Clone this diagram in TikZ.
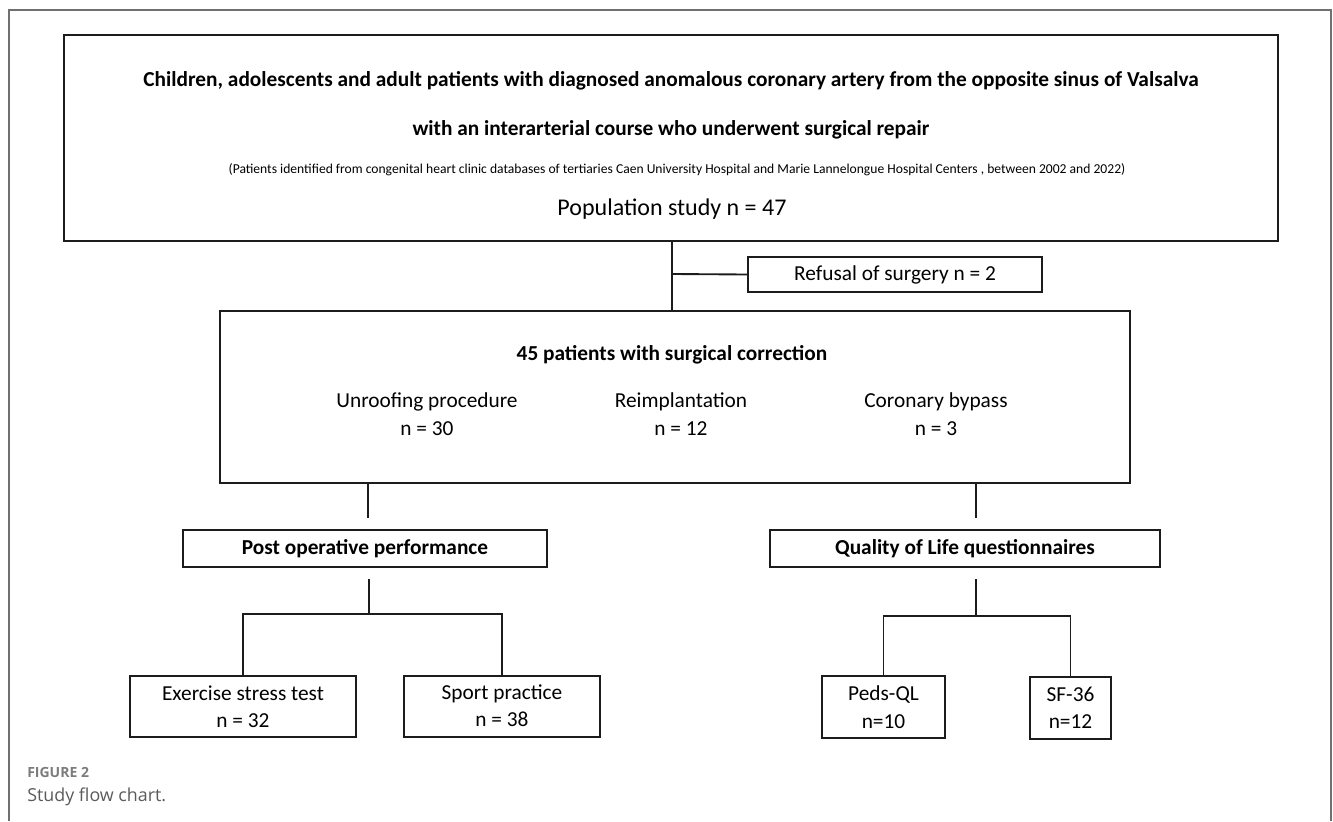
\documentclass[tikz,border=0pt]{standalone}
\usepackage{fontspec}
\setmainfont{Carlito}
\newfontfamily\capfont{Open Sans}
\usetikzlibrary{positioning,calc}
\definecolor{inkblack}{HTML}{1C1C1C}
\definecolor{framegray}{HTML}{707070}
\definecolor{capgray}{HTML}{7C7C7C}
\definecolor{captext}{HTML}{5A5A5A}
\newcommand{\boxfont}{\fontsize{16pt}{20.5pt}\selectfont}
\newcommand{\headfont}{\fontsize{16pt}{18pt}\selectfont\bfseries}
\newcommand{\notefont}{\fontsize{10.2pt}{12pt}\selectfont}

\begin{document}
\begin{tikzpicture}[x=0.75pt,y=-0.75pt,
 box/.style 2 args={draw=inkblack,line width=1.5pt,minimum width=#1*0.75pt,minimum height=#2*0.75pt,inner sep=0pt},
 bigbox/.style 2 args={box={#1}{#2},line width=1.8pt},
 txt/.style={font=\boxfont,align=center,inner sep=0pt},
 head/.style={font=\headfont,align=center,inner sep=0pt},
 link/.style={draw=inkblack,line width=1.4pt}]
\useasboundingbox (0,0) rectangle (1333,821);
\draw[framegray,line width=0.8pt] (9,821) -- (9,10) -- (1331,10) -- (1331,821);
% population
\node[bigbox={1214}{206}] (pop) at (671,138) {};
\node[head] (poptitlea) at (671,81) {Children, adolescents and adult patients with diagnosed anomalous coronary artery from the opposite sinus of Valsalva};
\node[head] (poptitleb) at (671,130) {with an interarterial course who underwent surgical repair};
\node[txt,font=\notefont] (popsource) at (677,170) {(Patients identified from congenital heart clinic databases of tertiaries Caen University Hospital and Marie Lannelongue Hospital Centers , between 2002 and 2022)};
\node[txt,font=\fontsize{18pt}{20pt}\selectfont] (popcount) at (672,209) {Population study n = 47};
% surgery
\node[box={294}{35}] (refusal) at (895,274.5) {};
\node[txt] at (refusal) {Refusal of surgery n = 2};
\node[box={910}{172}] (surg) at (675,397) {};
\node[head] (surgtitle) at (672,355) {45 patients with surgical correction};
\node[txt] (unroof) at (427,414) {Unroofing procedure\\n = 30};
\node[txt] (reimpl) at (681,414) {Reimplantation\\n = 12};
\node[txt] (bypass) at (936,414) {Coronary bypass\\n = 3};
\coordinate (split) at (672,274);
\draw[link] (split |- pop.south) -- (split |- surg.north); \draw[link] (split) -- (refusal.west);
% outcomes
\node[box={364}{37},head] (postop) at (365,548.5) {Post operative performance};
\node[box={390}{37},head] (qol) at (965,548.5) {Quality of Life questionnaires};
\coordinate (postin) at (368,518); \coordinate (qolin) at (976,518);
\draw[link] (postin |- surg.south) -- (postin); \draw[link] (qolin |- surg.south) -- (qolin);
\node[box={226}{61},txt] (stress) at (243,706.5) {Exercise stress test\\n = 32};
\node[box={196}{61},txt] (sport) at (502,706) {Sport practice\\n = 38};
\node[box={123}{62},txt] (peds) at (883.5,707) {Peds-QL\\n=10};
\node[box={81}{62},txt] (sf) at (1070.5,708) {SF-36\\n=12};
\coordinate (postout) at (369,579); \coordinate (qolout) at (976,579);
\draw[link] (postout) -- ++(0,36); \draw[link] (stress.north) -- ++(0,-61) -| (sport.north);
\draw[link] (qolout) -- ++(0,38); \draw[link] (peds.north) -- ++(0,-59) -| (sf.north);
% caption
\node[anchor=west,inner sep=0pt,text=capgray,font=\capfont\fontsize{10.5pt}{12pt}\selectfont\bfseries] (figlabel) at (27,772) {FIGURE 2};
\node[anchor=west,inner sep=0pt,text=captext,font=\capfont\fontsize{13.4pt}{15pt}\selectfont] (figcaption) at (27,797) {Study flow chart.};
\end{tikzpicture}
\end{document}
